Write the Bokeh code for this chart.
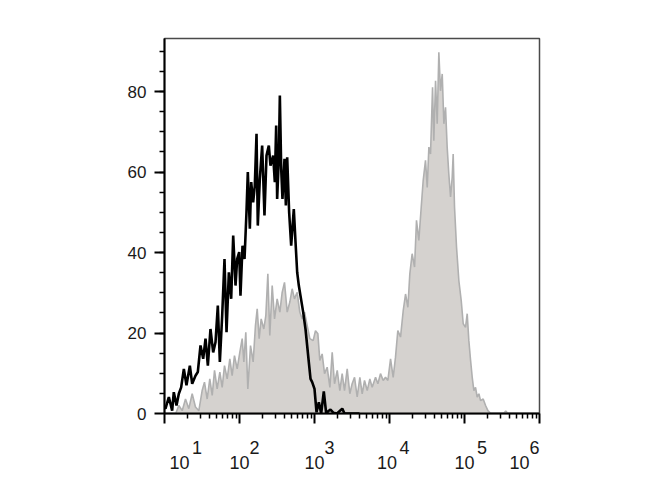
from bokeh.plotting import figure
from bokeh.models import Range1d, FixedTicker, LogAxis
from bokeh.embed import file_html
from bokeh.resources import INLINE

# ---- data (x as log10 of intensity, y as count) ----
black_logx = [1.00, 1.013, 1.058, 1.102, 1.124, 1.16, 1.191, 1.222, 1.258, 1.293,
              1.338, 1.369, 1.413, 1.444, 1.48, 1.516, 1.547, 1.578, 1.613, 1.649,
              1.68, 1.711, 1.738, 1.769, 1.8, 1.827, 1.858, 1.889, 1.916, 1.947,
              1.969, 1.996, 2.013, 2.04, 2.067, 2.093, 2.111, 2.138, 2.156, 2.182,
              2.204, 2.227, 2.244, 2.271, 2.302, 2.333, 2.36, 2.391, 2.413, 2.449,
              2.471, 2.489, 2.502, 2.524, 2.538, 2.556, 2.573, 2.6, 2.618, 2.636,
              2.662, 2.689, 2.724, 2.747, 2.769, 2.791, 2.813, 2.849, 2.88, 2.902,
              2.924, 2.947, 2.969, 3.0, 3.027, 3.058, 3.089, 3.124, 3.156, 3.191,
              3.213, 3.25, 3.3, 3.37, 3.4, 3.6]
black_count = [1.5, 1.2, 4.1, 0.7, 5.3, 2.0, 4.9, 6.5, 11.1, 7.0,
               11.9, 7.4, 9.4, 10.3, 16.9, 13.6, 18.6, 11.9, 21.0, 15.2,
               17.7, 26.8, 12.8, 24.3, 38.4, 20.2, 35.1, 28.5, 44.2, 31.8,
               38.4, 40.1, 29.3, 41.7, 38.4, 50.0, 60.0, 45.9, 57.5, 52.5,
               56.6, 69.5, 46.7, 58.3, 66.6, 49.2, 64.1, 66.6, 61.6, 64.1,
               57.5, 71.6, 53.3, 63.3, 79.0, 60.8, 53.3, 63.3, 51.7, 63.7,
               50.0, 41.7, 50.8, 42.6, 35.1, 31.8, 29.3, 25.2, 21.0, 16.9,
               12.8, 8.6, 7.8, 6.1, 0.3, 2.8, 0.0, 5.5, 0.0, 0.7,
               1.0, 0.2, 0.0, 1.2, 0.0, 0.0]

gray_logx = [1.15, 1.191, 1.236, 1.28, 1.324, 1.369, 1.413, 1.458, 1.502, 1.533,
             1.569, 1.604, 1.636, 1.667, 1.702, 1.738, 1.769, 1.8, 1.836, 1.871,
             1.902, 1.933, 1.969, 2.004, 2.036, 2.058, 2.084, 2.111, 2.147, 2.182,
             2.213, 2.236, 2.262, 2.289, 2.324, 2.351, 2.378, 2.404, 2.436, 2.467,
             2.502, 2.538, 2.569, 2.6, 2.636, 2.671, 2.702, 2.733, 2.769, 2.804,
             2.836, 2.867, 2.902, 2.938, 2.982, 3.013, 3.045, 3.071, 3.102, 3.134,
             3.169, 3.205, 3.236, 3.267, 3.303, 3.338, 3.369, 3.4, 3.436, 3.471,
             3.502, 3.534, 3.569, 3.605, 3.636, 3.667, 3.703, 3.738, 3.769, 3.814,
             3.845, 3.88, 3.916, 3.947, 3.978, 4.014, 4.049, 4.08, 4.111, 4.147,
             4.183, 4.214, 4.245, 4.271, 4.302, 4.334, 4.36, 4.391, 4.423, 4.449,
             4.48, 4.503, 4.525, 4.547, 4.574, 4.591, 4.614, 4.636, 4.658, 4.68,
             4.703, 4.725, 4.747, 4.769, 4.791, 4.814, 4.836, 4.849, 4.867, 4.894,
             4.925, 4.956, 4.983, 5.014, 5.036, 5.058, 5.081, 5.103, 5.125, 5.147,
             5.169, 5.192, 5.214, 5.249, 5.281, 5.312, 5.35, 5.52, 5.55, 5.58,
             6.0]
gray_count = [0.0, 2.0, 0.7, 3.6, 1.2, 4.9, 1.6, 0.7, 5.7, 7.8,
              3.6, 8.6, 4.5, 10.7, 6.1, 10.3, 6.5, 11.9, 8.6, 13.6,
              9.4, 14.4, 11.1, 15.2, 18.6, 12.8, 20.2, 6.1, 16.9, 12.8,
              21.9, 26.0, 18.6, 23.5, 21.0, 24.3, 34.7, 19.4, 31.8, 23.5,
              28.5, 25.2, 30.1, 32.6, 25.2, 27.7, 31.0, 28.5, 30.1, 25.2,
              23.5, 25.2, 21.9, 18.6, 18.1, 20.6, 19.8, 13.2, 14.8, 9.9,
              11.5, 6.5, 15.2, 7.4, 10.7, 5.7, 9.9, 5.7, 11.1, 4.9,
              7.4, 9.0, 4.1, 9.0, 4.9, 8.2, 5.7, 8.6, 6.5, 9.0,
              7.4, 9.9, 8.2, 9.0, 8.2, 13.6, 9.0, 14.0, 20.6, 19.0,
              25.6, 29.7, 26.4, 34.7, 39.7, 36.4, 48.0, 43.0, 51.3, 57.9,
              62.9, 56.2, 66.2, 64.5, 81.1, 67.8, 82.7, 72.0, 89.8, 80.2,
              84.4, 72.0, 76.1, 66.2, 59.5, 53.8, 58.7, 64.5, 51.3, 41.3,
              33.0, 28.1, 22.3, 21.4, 24.8, 18.1, 13.2, 9.0, 5.7, 6.5,
              4.1, 4.9, 3.2, 3.6, 2.0, 0.7, 0.0, 0.0, 0.6, 0.0,
              0.0]

x_decades = [1, 2, 3, 4, 5, 6]
x_tick_base = ["10", "10", "10", "10", "10", "10"]
x_tick_exp = ["1", "2", "3", "4", "5", "6"]
y_ticks = [0, 20, 40, 60, 80]

# ---- figure ----
W, H = 660, 490
p = figure(width=W, height=H, x_axis_type="log",
           x_range=Range1d(10, 1e6), y_range=Range1d(0, 93.2),
           output_backend="svg", toolbar_location=None,
           min_border_left=164, min_border_right=W - 539,
           min_border_top=38, min_border_bottom=H - 413)
p.background_fill_color = "white"
p.border_fill_color = "white"
p.grid.visible = False
p.outline_line_color = "#4a4a4a"
p.outline_line_width = 1.5

gx = [10 ** v for v in gray_logx]
bx = [10 ** v for v in black_logx]

p.varea(x=gx, y1=0, y2=gray_count, fill_color="#d5d2cf")
p.line(gx, gray_count, line_color="#b0b0b0", line_width=1.6)
p.line(bx, black_count, line_color="black", line_width=2.6)

# ---- axes ----
font = "Liberation Sans"
x_major = [10 ** k for k in x_decades]
x_minor = [m * 10 ** k for k in x_decades[:-1] for m in range(2, 10)]
p.xaxis.ticker = FixedTicker(ticks=x_major, minor_ticks=x_minor)
p.yaxis.ticker = FixedTicker(ticks=y_ticks, minor_ticks=list(range(5, 95, 5)))

for ax in (p.xaxis, p.yaxis):
    ax.axis_line_color = "black"
    ax.axis_line_width = 2
    ax.major_tick_line_color = "black"
    ax.major_tick_line_width = 2
    ax.minor_tick_line_color = "black"
    ax.minor_tick_line_width = 1.5
    ax.major_tick_in = 0
    ax.minor_tick_in = 0
    ax.major_tick_out = 10
    ax.minor_tick_out = 5
    ax.major_label_text_font = font
    ax.major_label_text_color = "#1a1a1a"

# y labels
p.yaxis.major_label_text_font_size = "17px"
p.yaxis.major_label_standoff = 8

# x labels: exponent row (closest to axis) + "10" row below
NB = "\u00a0"
sup_pad = [(13, 0), (6, 0), (6, 0), (6, 0), (7, 0), (0, 2)]
base_pad = [(6, 0), (0, 0), (0, 0), (0, 1), (0, 0), (0, 8)]

p.xaxis.major_label_text_font_size = "18px"
p.xaxis.major_label_standoff = 14
p.xaxis.major_label_overrides = {
    10 ** k: NB * l + e + NB * r for k, e, (l, r) in zip(x_decades, x_tick_exp, sup_pad)
}

base_axis = LogAxis(ticker=FixedTicker(ticks=x_major, minor_ticks=[]))
base_axis.axis_line_color = None
base_axis.major_tick_line_color = None
base_axis.minor_tick_line_color = None
base_axis.major_tick_in = 0
base_axis.major_tick_out = 0
base_axis.minor_tick_in = 0
base_axis.minor_tick_out = 0
base_axis.major_label_standoff = -8
base_axis.major_label_text_font = font
base_axis.major_label_text_font_size = "18px"
base_axis.major_label_text_color = "#1a1a1a"
base_axis.major_label_overrides = {
    10 ** k: NB * l + b + NB * r for k, b, (l, r) in zip(x_decades, x_tick_base, base_pad)
}
p.add_layout(base_axis, "below")

open("out.html", "w").write(file_html(p, INLINE))
